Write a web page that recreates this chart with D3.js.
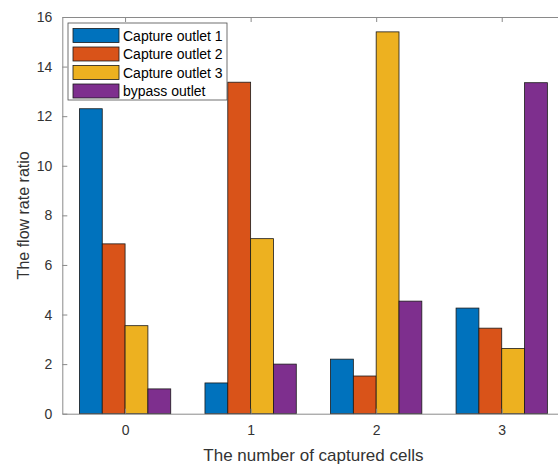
<!DOCTYPE html>
<html>
<head>
<meta charset="utf-8">
<script src="https://cdn.jsdelivr.net/npm/d3@7"></script>
<style>
  html, body { margin: 0; padding: 0; background: #fff; }
  svg { display: block; font-family: "Liberation Sans", Arial, Helvetica, sans-serif; }
</style>
</head>
<body>
<svg id="chart" width="558" height="466"></svg>
<script>
// Number of captured cells (groups on the x axis)
const categories = ["0", "1", "2", "3"];
// Flow rate ratio per outlet
const seriesNames = ["Capture outlet 1", "Capture outlet 2", "Capture outlet 3", "bypass outlet"];
const outlet1 = [12.30, 1.24, 2.20, 4.26];
const outlet2 = [6.85, 13.37, 1.52, 3.45];
const outlet3 = [3.55, 7.06, 15.40, 2.63];
const bypass  = [1.00, 2.00, 4.54, 13.35];
const seriesColors = ["#0072BD", "#D95319", "#EDB120", "#7E2F8E"];
const yTicks = [0, 2, 4, 6, 8, 10, 12, 14, 16];

const series = [outlet1, outlet2, outlet3, bypass];

const svg = d3.select("#chart");
const margin = { left: 62.3, top: 17, right: 564.5, bottom: 413.7 };
const axisColor = "#8a8a8a";
const textColor = "#333333";

// x: continuous group positions, limits -0.5..3.5
const x = d3.scaleLinear().domain([-0.5, 3.5]).range([margin.left, margin.right]);
const y = d3.scaleLinear().domain([0, 16]).range([margin.bottom, margin.top]);

// grouped-bar layout
const nSeries = series.length;
const groupWidth = Math.min(0.8, nSeries / (nSeries + 1.5));
const barW = groupWidth / nSeries;

const plot = svg.append("g");
series.forEach((vals, si) => {
  plot.selectAll(null)
    .data(vals)
    .enter()
    .append("rect")
    .attr("x", (d, i) => x(i - groupWidth / 2 + si * barW))
    .attr("width", x(barW) - x(0))
    .attr("y", d => y(d))
    .attr("height", d => y(0) - y(d))
    .attr("fill", seriesColors[si])
    .attr("stroke", "#1a1a1a")
    .attr("stroke-width", 0.8);
});

// axes box (left, bottom, top)
const xAxis = d3.axisBottom(x).tickValues(categories.map((c, i) => i))
  .tickFormat((d) => categories[d]).tickSizeInner(-5).tickSizeOuter(0).tickPadding(11);
const yAxis = d3.axisLeft(y).tickValues(yTicks).tickSizeInner(-5).tickSizeOuter(0).tickPadding(10);
const xTop = d3.axisTop(x).tickValues(categories.map((c, i) => i))
  .tickFormat("").tickSizeInner(-5).tickSizeOuter(0);

function style(g) {
  g.select(".domain").attr("stroke", axisColor).attr("stroke-width", 1);
  g.selectAll(".tick line").attr("stroke", axisColor);
  g.selectAll(".tick text").attr("fill", textColor).style("font-size", "14px")
    .style("font-family", "'Liberation Sans', Arial, sans-serif");
}

svg.append("g").attr("transform", `translate(0,${margin.bottom})`).call(xAxis).call(style);
svg.append("g").attr("transform", `translate(0,${margin.top})`).call(xTop).call(style);
svg.append("g").attr("transform", `translate(${margin.left},0)`).call(yAxis).call(style);

// axis titles
svg.append("text")
  .attr("x", x(1.5)).attr("y", 461)
  .attr("text-anchor", "middle")
  .attr("fill", textColor)
  .style("font-size", "17px")
  .text("The number of captured cells");

svg.append("text")
  .attr("transform", `translate(29,${y(8)}) rotate(-90)`)
  .attr("text-anchor", "middle")
  .attr("fill", textColor)
  .style("font-size", "16px")
  .text("The flow rate ratio");

// legend
const legend = svg.append("g").attr("transform", "translate(68,23)");
legend.append("rect")
  .attr("width", 159).attr("height", 77)
  .attr("fill", "#fff").attr("stroke", "#4d4d4d").attr("stroke-width", 0.8);
seriesNames.forEach((name, i) => {
  const row = legend.append("g").attr("transform", `translate(0,${5 + i * 18.5})`);
  row.append("rect")
    .attr("x", 5).attr("y", 0.5).attr("width", 46).attr("height", 14)
    .attr("fill", seriesColors[i]).attr("stroke", "#1a1a1a").attr("stroke-width", 0.8);
  row.append("text")
    .attr("x", 55).attr("y", 12.5)
    .attr("fill", "#000")
    .style("font-size", "14px")
    .text(name);
});
</script>
</body>
</html>
